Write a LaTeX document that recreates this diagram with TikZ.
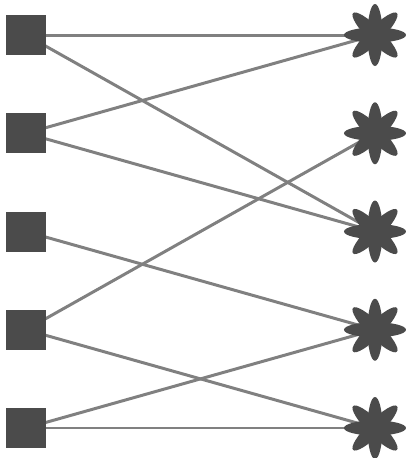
\documentclass[tikz,border=0pt]{standalone}
\usetikzlibrary{backgrounds}
\definecolor{Body}{HTML}{4B4B4B}
\definecolor{Wire}{HTML}{808080}
\tikzset{
    % dark square on the left
    squarebox/.style={
        rectangle,
        fill=Body,
        minimum size=0.8cm,
        inner sep=0pt
    },
    % eight-petal flower on the right, petals filled below
    flowerbox/.style={
        circle,
        fill=Body,
        inner sep=0pt,
        minimum size=0.56cm
    },
    petal/.style={
        fill=Body
    },
    wire/.style={
        draw=Wire,
        line width=1.7pt
    }
}

\begin{document}
\begin{tikzpicture}[x=0.02cm, y=-0.02cm]
            \useasboundingbox (0,0) rectangle (406,458);

            % Left column
            \node[squarebox] (s1) at (26,35) {};
            \node[squarebox] (s2) at (26,133.25) {};
            \node[squarebox] (s3) at (26,231.5) {};
            \node[squarebox] (s4) at (26,329.75) {};
            \node[squarebox] (s5) at (26,428) {};

            % Right column
            \node[flowerbox] (t1) at (375,35) {};
            \node[flowerbox] (t2) at (375,133.25) {};
            \node[flowerbox] (t3) at (375,231.5) {};
            \node[flowerbox] (t4) at (375,329.75) {};
            \node[flowerbox] (t5) at (375,428) {};

            % Petals
            \foreach \t in {t1,t2,t3,t4,t5}
                \foreach \ang in {0,45,90,135}
                    \fill[petal, shift={(\t.center)}, rotate=\ang]
                        (0,0) ellipse [x radius=31, y radius=7.5];

            % Edges, behind the nodes
            \begin{scope}[on background layer]
                \draw[wire] (s1.center) -- (t1.center);
                \draw[wire] (s1.center) -- (t3.center);
                \draw[wire] (s2.center) -- (t1.center);
                \draw[wire] (s2.center) -- (t3.center);
                \draw[wire] (s3.center) -- (t4.center);
                \draw[wire] (s4.center) -- (t2.center);
                \draw[wire] (s4.center) -- (t5.center);
                \draw[wire] (s5.center) -- (t4.center);
                \draw[wire] (s5.center) -- (t5.center);
            \end{scope}
        \end{tikzpicture}
\end{document}
